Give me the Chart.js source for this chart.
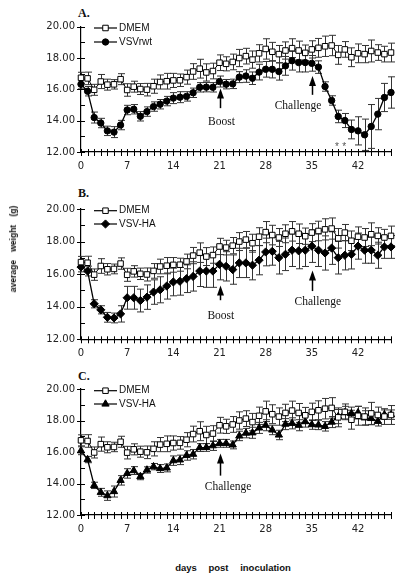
<!DOCTYPE html>
<html>
<head>
<meta charset="utf-8">
<script src="https://cdn.jsdelivr.net/npm/chart.js@4.4.0/dist/chart.umd.min.js"></script>
<style>
  body { margin: 0; background: #fff; width: 400px; height: 575px; position: relative; overflow: hidden; }
  .panel { position: absolute; left: 0; width: 400px; }
  .tag { position: absolute; left: 78px; font: bold 12px "Liberation Serif", serif; color: #111; }
  .ytitle { position: absolute; left: 13px; top: 249px; transform: translate(-50%, -50%) rotate(-90deg);
            font: bold 8.5px "Liberation Sans", sans-serif; word-spacing: 6px; white-space: nowrap; color: #111; }
  .xtitle { position: absolute; left: 233px; top: 567px; transform: translate(-50%, -50%);
            font: bold 9.5px "Liberation Sans", sans-serif; word-spacing: 9px; white-space: nowrap; color: #111; }
</style>
</head>
<body>
<div class="tag" style="top:6px">A.</div>
<div class="tag" style="top:186px">B.</div>
<div class="tag" style="top:369px">C.</div>
<canvas id="chartA" class="panel" style="top:0px" width="400" height="180"></canvas>
<canvas id="chartB" class="panel" style="top:185px" width="400" height="175"></canvas>
<canvas id="chartC" class="panel" style="top:370px" width="400" height="175"></canvas>
<div class="ytitle">average weight (g)</div>
<div class="xtitle">days post inoculation</div>

<script>
// days post inoculation
const days = [0, 1, 2, 3, 4, 5, 6, 7, 8, 9, 10, 11, 12, 13, 14, 15, 16, 17, 18, 19, 20, 21, 22, 23,
              24, 25, 26, 27, 28, 29, 30, 31, 32, 33, 34, 35, 36, 37, 38, 39, 40, 41, 42, 43, 44, 45, 46, 47];

// DMEM control (same group shown in all three panels)
const dmemMean = [16.74, 16.7, 15.97, 16.5, 16.3, 16.32, 16.65, 15.96, 16.17, 16.02, 15.98, 16.2,
                  16.47, 16.52, 16.57, 16.58, 16.78, 17.14, 17.32, 17.08, 17.17, 17.7, 17.63, 17.75,
                  18.0, 18.12, 17.9, 18.3, 18.58, 18.4, 18.25, 18.48, 18.63, 18.48, 18.33, 18.55,
                  18.65, 18.75, 18.8, 18.2, 18.55, 18.05, 18.3, 18.25, 18.45, 18.35, 18.25, 18.35];
const dmemErr = [0.35, 0.4, 0.35, 0.45, 0.35, 0.3, 0.35, 0.4, 0.35, 0.35, 0.4, 0.45,
                 0.45, 0.5, 0.45, 0.4, 0.45, 0.5, 0.6, 0.55, 0.5, 0.5, 0.45, 0.5,
                 0.55, 0.5, 0.55, 0.55, 0.65, 0.6, 0.55, 0.55, 0.6, 0.6, 0.5, 0.55,
                 0.6, 0.65, 0.65, 0.6, 0.5, 0.6, 0.6, 0.55, 0.7, 0.5, 0.5, 0.6];

// panel A: VSVrwt
const rwtMean = [16.33, 15.88, 14.2, 13.85, 13.35, 13.27, 13.72, 14.68, 14.73, 14.28, 14.58, 14.9,
                 15.05, 15.25, 15.44, 15.5, 15.55, 15.78, 16.13, 16.14, 16.13, 16.5, 16.33, 16.35,
                 16.78, 16.85, 16.71, 17.1, 17.28, 17.28, 17.14, 17.5, 17.83, 17.71, 17.71, 17.66,
                 17.42, 16.18, 15.29, 14.27, 14.01, 13.44, 13.35, 13.1, 13.63, 14.42, 15.48, 15.8];
const rwtErr = [0.3, 0.3, 0.35, 0.3, 0.3, 0.35, 0.3, 0.3, 0.3, 0.3, 0.3, 0.3,
                0.3, 0.3, 0.35, 0.35, 0.3, 0.3, 0.3, 0.3, 0.3, 0.35, 0.3, 0.3,
                0.35, 0.4, 0.4, 0.5, 0.5, 0.55, 0.55, 0.6, 0.6, 0.6, 0.6, 0.5,
                0.4, 0.3, 0.3, 0.4, 0.45, 0.6, 0.9, 1.0, 1.4, 1.0, 0.9, 1.0];

// panel B: VSV-HA (boosted)
const haBMean = [16.44, 16.19, 14.18, 13.81, 13.35, 13.31, 13.56, 14.55, 14.55, 14.38, 14.59, 14.9,
                 15.04, 15.27, 15.52, 15.56, 15.72, 15.86, 16.19, 16.19, 16.19, 16.6, 16.48, 16.28,
                 16.69, 16.69, 16.55, 16.86, 17.36, 17.4, 17.01, 17.22, 17.47, 17.43, 17.47, 17.72,
                 17.47, 17.3, 17.6, 17.01, 17.16, 17.22, 17.72, 17.47, 17.47, 17.16, 17.67, 17.67];
const haBErr = [0.3, 0.3, 0.25, 0.25, 0.3, 0.3, 0.5, 0.7, 0.7, 0.7, 0.75, 0.75,
                0.8, 0.8, 0.85, 0.85, 0.85, 0.9, 0.95, 1.0, 1.0, 0.95, 0.9, 0.9,
                0.9, 0.9, 0.9, 0.9, 0.85, 0.85, 1.0, 1.0, 1.0, 1.1, 1.0, 1.0,
                1.0, 1.05, 1.0, 1.0, 0.9, 0.9, 0.8, 0.8, 0.8, 0.8, 0.7, 0.7];

// panel C: VSV-HA (single dose)
const haCMean = [16.08, 15.52, 13.88, 13.44, 13.23, 13.49, 14.2, 14.64, 14.82, 14.44, 14.86, 15.07,
                 14.95, 14.99, 15.45, 15.5, 15.78, 15.86, 16.28, 16.29, 16.4, 16.55, 16.55, 16.45,
                 17.02, 17.2, 17.22, 17.53, 17.7, 17.4, 17.08, 17.77, 17.82, 17.7, 17.93, 17.74,
                 17.72, 17.63, 17.9, 18.25, 18.5, 18.45, 18.5, 18.17, 18.13, 17.95, 18.37, 18.37];
const haCErr = [0.25, 0.2, 0.2, 0.25, 0.3, 0.35, 0.3, 0.3, 0.25, 0.2, 0.2, 0.2,
                0.25, 0.25, 0.3, 0.3, 0.3, 0.3, 0.25, 0.25, 0.3, 0.25, 0.25, 0.25,
                0.3, 0.3, 0.35, 0.35, 0.35, 0.3, 0.3, 0.35, 0.35, 0.35, 0.35, 0.3,
                0.3, 0.3, 0.35, 0.45, 0.4, 0.4, 0.4, 0.45, 0.4, 0.3, 0.3, 0.3];

const yTicksMajor = [12, 14, 16, 18, 20];
const xTickLabels = [0, 7, 14, 21, 28, 35, 42];

const CHART_LEFT = 81;
const CHART_RIGHT = 391;

// vertical error bars with caps
const errorBars = {
    id: 'errorBars',
    beforeDatasetsDraw(chart) {
        const { ctx, scales: { x, y } } = chart;
        ctx.save();
        ctx.strokeStyle = '#333';
        ctx.lineWidth = 1;
        chart.data.datasets.forEach(ds => {
            if (!ds.errors) return;
            ctx.beginPath();
            ds.data.forEach((v, i) => {
                const px = Math.round(x.getPixelForValue(days[i])) + 0.5;
                const top = y.getPixelForValue(v + ds.errors[i]);
                const bot = y.getPixelForValue(v - ds.errors[i]);
                ctx.moveTo(px, top); ctx.lineTo(px, bot);
                ctx.moveTo(px - 3.5, top); ctx.lineTo(px + 3.5, top);
                ctx.moveTo(px - 3.5, bot); ctx.lineTo(px + 3.5, bot);
            });
            ctx.stroke();
        });
        ctx.restore();
    }
};

// crossing tick marks on both axes
const axisTicks = {
    id: 'axisTicks',
    afterDraw(chart) {
        const { ctx, scales: { x, y } } = chart;
        ctx.save();
        ctx.strokeStyle = '#000';
        ctx.lineWidth = 1;
        ctx.beginPath();
        x.ticks.forEach(t => {
            const px = Math.round(x.getPixelForValue(t.value)) + 0.5;
            ctx.moveTo(px, y.bottom - 3);
            ctx.lineTo(px, y.bottom + 4);
        });
        y.ticks.forEach(t => {
            const py = Math.round(y.getPixelForValue(t.value)) + 0.5;
            const major = yTicksMajor.includes(t.value);
            ctx.moveTo(x.left - (major ? 4 : 0), py);
            ctx.lineTo(x.left + 4, py);
        });
        ctx.stroke();
        ctx.restore();
    }
};

// legend drawn as line + marker + label, like the original
const lineLegend = {
    id: 'lineLegend',
    afterDraw(chart, args, opts) {
        const { ctx } = chart;
        ctx.save();
        opts.rows.forEach((y, i) => {
            const ds = chart.data.datasets[i];
            ctx.strokeStyle = '#000';
            ctx.lineWidth = 1.2;
            ctx.beginPath();
            ctx.moveTo(94, y); ctx.lineTo(117, y);
            ctx.stroke();
            ctx.fillStyle = ds.pointBackgroundColor;
            ctx.strokeStyle = '#000';
            ctx.lineWidth = 1;
            Chart.helpers.drawPoint(ctx, {
                pointStyle: ds.pointStyle, radius: ds.pointRadius, borderWidth: 1, rotation: 0
            }, 105.5, y);
            ctx.fillStyle = '#111';
            ctx.font = '10px "Liberation Sans", sans-serif';
            ctx.textBaseline = 'middle';
            ctx.textAlign = 'left';
            ctx.fillText(ds.label, 119, y);
        });
        ctx.restore();
    }
};

// arrows and labels (Boost / Challenge / significance stars)
const marks = {
    id: 'marks',
    afterDraw(chart, args, opts) {
        const { ctx, scales: { x, y } } = chart;
        ctx.save();
        ctx.fillStyle = '#000';
        ctx.strokeStyle = '#000';
        (opts.arrows || []).forEach(a => {
            const px = Math.round(x.getPixelForValue(a.day)) + 0.5;
            const tip = y.getPixelForValue(a.tip);
            const tail = y.getPixelForValue(a.tail);
            ctx.lineWidth = 1.5;
            ctx.beginPath();
            ctx.moveTo(px, tail); ctx.lineTo(px, tip + 6);
            ctx.stroke();
            ctx.beginPath();
            ctx.moveTo(px, tip);
            ctx.lineTo(px - 3.5, tip + 10);
            ctx.lineTo(px + 3.5, tip + 10);
            ctx.closePath();
            ctx.fill();
        });
        (opts.texts || []).forEach(t => {
            ctx.font = t.star ? '10px "Liberation Sans", sans-serif' : '11.5px "Liberation Serif", serif';
            ctx.fillStyle = t.star ? '#555' : '#111';
            ctx.textAlign = 'center';
            ctx.textBaseline = 'middle';
            ctx.fillText(t.text, x.getPixelForValue(t.day), y.getPixelForValue(t.val));
        });
        ctx.restore();
    }
};

function lineSet(label, data, errors, style) {
    return Object.assign({
        label: label,
        data: data,
        errors: errors,
        borderColor: '#000',
        borderWidth: 1.3,
        pointBorderColor: '#000',
        pointBorderWidth: 1,
        pointBackgroundColor: '#000',
        tension: 0,
        clip: false
    }, style);
}

const dmemStyle = { pointStyle: 'rect', pointRadius: 3.9, pointBackgroundColor: '#fff', borderWidth: 1 };

function makePanel(id, height, top, bottom, datasets, legendRows, marksOpts) {
    return new Chart(document.getElementById(id), {
        type: 'line',
        data: { labels: days, datasets: datasets },
        options: {
            responsive: false,
            animation: false,
            layout: { padding: { left: 0, right: 400 - CHART_RIGHT, top: top, bottom: 0 } },
            scales: {
                x: {
                    type: 'linear',
                    min: 0,
                    max: 47,
                    afterFit: s => { s.height = height - bottom; },
                    grid: { display: false, drawTicks: false },
                    border: { display: true, color: '#000', width: 1.2 },
                    ticks: {
                        stepSize: 1,
                        autoSkip: false,
                        maxRotation: 0,
                        padding: 8,
                        color: '#222',
                        font: { family: 'DejaVu Sans', size: 10 },
                        callback: v => xTickLabels.includes(v) ? String(v) : ''
                    }
                },
                y: {
                    min: 12,
                    max: 20,
                    afterFit: s => { s.width = CHART_LEFT; },
                    grid: { display: false, drawTicks: false },
                    border: { display: true, color: '#000', width: 1.2 },
                    ticks: {
                        stepSize: 1,
                        autoSkip: false,
                        padding: 6,
                        color: '#222',
                        font: { family: 'DejaVu Sans', size: 10 },
                        callback: v => yTicksMajor.includes(v) ? v.toFixed(2) : ''
                    }
                }
            },
            plugins: {
                legend: { display: false },
                tooltip: { enabled: false },
                lineLegend: { rows: legendRows },
                marks: marksOpts
            }
        },
        plugins: [errorBars, axisTicks, lineLegend, marks]
    });
}

makePanel('chartA', 180, 26.7, 152, [
    lineSet('DMEM', dmemMean, dmemErr, dmemStyle),
    lineSet('VSVrwt', rwtMean, rwtErr, { pointStyle: 'circle', pointRadius: 3.2 })
], [28, 42], {
    arrows: [{ day: 21, tip: 16.05, tail: 14.8 }, { day: 35, tip: 16.86, tail: 15.65 }],
    texts: [
        { text: 'Boost', day: 21.3, val: 13.9 },
        { text: 'Challenge', day: 32.9, val: 14.95 },
        { text: '*', day: 38.8, val: 12.3, star: true },
        { text: '*', day: 39.9, val: 12.3, star: true }
    ]
});

makePanel('chartB', 175, 24, 154.3, [
    lineSet('DMEM', dmemMean, dmemErr, dmemStyle),
    lineSet('VSV-HA', haBMean, haBErr, { pointStyle: 'rectRot', pointRadius: 4.1 })
], [25.7, 39], {
    arrows: [{ day: 21, tip: 15.3, tail: 14.4 }, { day: 35, tip: 16.23, tail: 14.96 }],
    texts: [
        { text: 'Boost', day: 21.2, val: 13.46 },
        { text: 'Challenge', day: 35.9, val: 14.28 }
    ]
});

makePanel('chartC', 175, 19, 145, [
    lineSet('DMEM', dmemMean, dmemErr, dmemStyle),
    lineSet('VSV-HA', haCMean, haCErr, { pointStyle: 'triangle', pointRadius: 4.2 })
], [20.7, 34], {
    arrows: [{ day: 21, tip: 15.9, tail: 14.5 }],
    texts: [{ text: 'Challenge', day: 22.3, val: 13.8 }]
});
</script>
</body>
</html>
